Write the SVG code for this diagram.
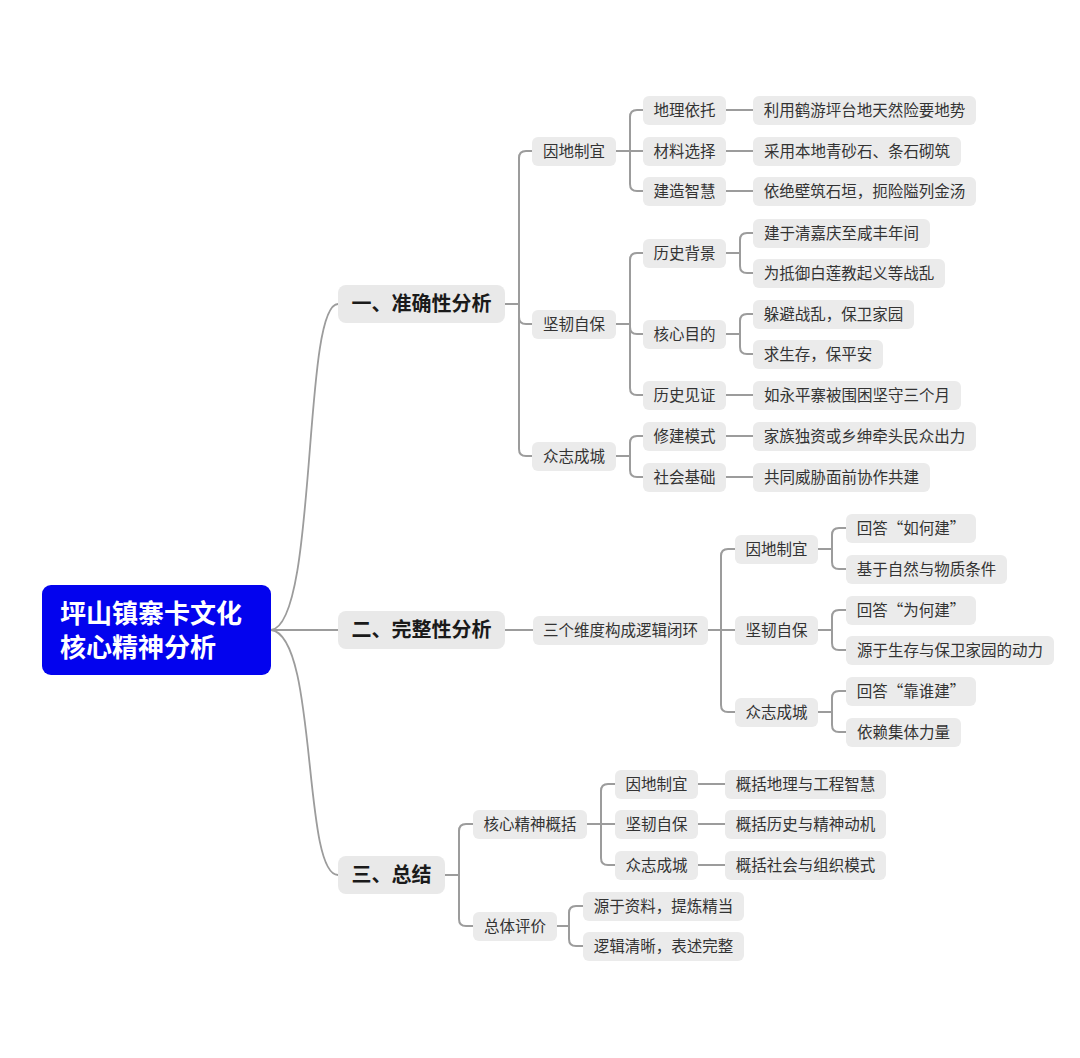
<svg xmlns="http://www.w3.org/2000/svg" width="1080" height="1058" viewBox="0 0 1080 1058">
<style>
text{font-family:"Noto Sans CJK SC","Noto Sans",sans-serif;fill:#333333;}
.n rect{fill:#ebebeb;}
.t{font-size:15.5px;text-anchor:middle;}
.l1 rect{fill:#e9e9e9;}
.t1{font-size:20px;font-weight:bold;fill:#1a1a1a;text-anchor:middle;}
.root rect{fill:#0303ee;}
.rt{font-size:26px;font-weight:bold;fill:#ffffff;}
#connectors path{fill:none;stroke:#9c9c9c;stroke-width:2;}
#connectors .c{stroke-width:1.8;}
</style>
<rect width="1080" height="1058" fill="#ffffff"/>
<g id="connectors">
<path class="c" d="M271,630 C318,625 302,304 338,304"/>
<path class="c" d="M271,630 H338"/>
<path class="c" d="M271,630 C318,635 302,875 338,875"/>
<!-- A -->
<path d="M505,304 H519 V158 Q519,151 526,151 H532"/>
<path d="M505,304 H519 V317 Q519,324 526,324 H532"/>
<path d="M505,304 H519 V449 Q519,456 526,456 H532"/>
<path d="M616,151 H643"/>
<path d="M616,151 H630 V117 Q630,110 637,110 H643"/>
<path d="M616,151 H630 V184 Q630,191 637,191 H643"/>
<path d="M726,110 H753"/>
<path d="M726,151 H753"/>
<path d="M726,191 H753"/>
<path d="M616,324 H630 V260 Q630,253 637,253 H643"/>
<path d="M616,324 H630 V327 Q630,334 637,334 H643"/>
<path d="M616,324 H630 V388 Q630,395 637,395 H643"/>
<path d="M726,253 H740 V240 Q740,233 747,233 H753"/>
<path d="M726,253 H740 V266 Q740,273 747,273 H753"/>
<path d="M726,334 H740 V321 Q740,314 747,314 H753"/>
<path d="M726,334 H740 V347 Q740,354 747,354 H753"/>
<path d="M726,395 H753"/>
<path d="M616,456 H630 V443 Q630,436 637,436 H643"/>
<path d="M616,456 H630 V470 Q630,477 637,477 H643"/>
<path d="M726,436 H753"/>
<path d="M726,477 H753"/>
<!-- B -->
<path d="M505,630 H533"/>
<path d="M708,630 H735"/>
<path d="M708,630 H721 V556 Q721,549 728,549 H735"/>
<path d="M708,630 H721 V705 Q721,712 728,712 H735"/>
<path d="M818,549 H832 V535 Q832,528 839,528 H846"/>
<path d="M818,549 H832 V562 Q832,569 839,569 H846"/>
<path d="M818,630 H832 V617 Q832,610 839,610 H846"/>
<path d="M818,630 H832 V643 Q832,650 839,650 H846"/>
<path d="M818,712 H832 V698 Q832,691 839,691 H846"/>
<path d="M818,712 H832 V725 Q832,732 839,732 H846"/>
<!-- C -->
<path d="M445,875 H459 V831 Q459,824 466,824 H473"/>
<path d="M445,875 H459 V919 Q459,926 466,926 H473"/>
<path d="M587,824 H615"/>
<path d="M587,824 H601 V791 Q601,784 608,784 H615"/>
<path d="M587,824 H601 V858 Q601,865 608,865 H615"/>
<path d="M698,784 H725"/>
<path d="M698,824 H725"/>
<path d="M698,865 H725"/>
<path d="M557,926 H569 V913 Q569,906 576,906 H583"/>
<path d="M557,926 H569 V939 Q569,946 576,946 H583"/>
</g>
<g id="root" class="root"><rect x="42" y="585" width="229" height="90" rx="9"/><text class="rt" x="60" y="623">坪山镇寨卡文化</text><text class="rt" x="60" y="657">核心精神分析</text></g>
<g id="a" class="l1"><rect x="338" y="285" width="167" height="38" rx="8"/><text class="t1" x="421.5" y="311">一、准确性分析</text></g>
<g id="b" class="l1"><rect x="338" y="611" width="167" height="38" rx="8"/><text class="t1" x="421.5" y="637">二、完整性分析</text></g>
<g id="c" class="l1"><rect x="338" y="856" width="107" height="38" rx="8"/><text class="t1" x="391.5" y="882">三、总结</text></g>

<g id="a1" class="n"><rect x="532" y="137" width="84" height="29" rx="6"/><text class="t" x="574" y="157">因地制宜</text></g>
<g id="a2" class="n"><rect x="532" y="310" width="84" height="29" rx="6"/><text class="t" x="574" y="330">坚韧自保</text></g>
<g id="a3" class="n"><rect x="532" y="442" width="84" height="29" rx="6"/><text class="t" x="574" y="462">众志成城</text></g>

<g id="a1a" class="n"><rect x="643" y="96" width="83" height="29" rx="6"/><text class="t" x="684.5" y="116">地理依托</text></g>
<g id="a1b" class="n"><rect x="643" y="137" width="83" height="29" rx="6"/><text class="t" x="684.5" y="157">材料选择</text></g>
<g id="a1c" class="n"><rect x="643" y="177" width="83" height="29" rx="6"/><text class="t" x="684.5" y="197">建造智慧</text></g>
<g id="a1a1" class="n"><rect x="753" y="96" width="223" height="29" rx="6"/><text class="t" x="864.5" y="116">利用鹤游坪台地天然险要地势</text></g>
<g id="a1b1" class="n"><rect x="753" y="137" width="208" height="29" rx="6"/><text class="t" x="857" y="157">采用本地青砂石、条石砌筑</text></g>
<g id="a1c1" class="n"><rect x="753" y="177" width="223" height="29" rx="6"/><text class="t" x="864.5" y="197">依绝壁筑石垣，扼险隘列金汤</text></g>

<g id="a2a" class="n"><rect x="643" y="239" width="83" height="29" rx="6"/><text class="t" x="684.5" y="259">历史背景</text></g>
<g id="a2b" class="n"><rect x="643" y="320" width="83" height="29" rx="6"/><text class="t" x="684.5" y="340">核心目的</text></g>
<g id="a2c" class="n"><rect x="643" y="381" width="83" height="29" rx="6"/><text class="t" x="684.5" y="401">历史见证</text></g>
<g id="a2a1" class="n"><rect x="753" y="219" width="177" height="29" rx="6"/><text class="t" x="841.5" y="239">建于清嘉庆至咸丰年间</text></g>
<g id="a2a2" class="n"><rect x="753" y="259" width="192" height="29" rx="6"/><text class="t" x="849" y="279">为抵御白莲教起义等战乱</text></g>
<g id="a2b1" class="n"><rect x="753" y="300" width="161" height="29" rx="6"/><text class="t" x="833.5" y="320">躲避战乱，保卫家园</text></g>
<g id="a2b2" class="n"><rect x="753" y="340" width="130" height="29" rx="6"/><text class="t" x="818" y="360">求生存，保平安</text></g>
<g id="a2c1" class="n"><rect x="753" y="381" width="208" height="29" rx="6"/><text class="t" x="857" y="401">如永平寨被围困坚守三个月</text></g>

<g id="a3a" class="n"><rect x="643" y="422" width="83" height="29" rx="6"/><text class="t" x="684.5" y="442">修建模式</text></g>
<g id="a3b" class="n"><rect x="643" y="463" width="83" height="29" rx="6"/><text class="t" x="684.5" y="483">社会基础</text></g>
<g id="a3a1" class="n"><rect x="753" y="422" width="223" height="29" rx="6"/><text class="t" x="864.5" y="442">家族独资或乡绅牵头民众出力</text></g>
<g id="a3b1" class="n"><rect x="753" y="463" width="177" height="29" rx="6"/><text class="t" x="841.5" y="483">共同威胁面前协作共建</text></g>

<g id="b1" class="n"><rect x="533" y="616" width="175" height="29" rx="6"/><text class="t" x="620.5" y="636">三个维度构成逻辑闭环</text></g>
<g id="b1a" class="n"><rect x="735" y="535" width="83" height="29" rx="6"/><text class="t" x="776.5" y="555">因地制宜</text></g>
<g id="b1b" class="n"><rect x="735" y="616" width="83" height="29" rx="6"/><text class="t" x="776.5" y="636">坚韧自保</text></g>
<g id="b1c" class="n"><rect x="735" y="698" width="83" height="29" rx="6"/><text class="t" x="776.5" y="718">众志成城</text></g>
<g id="b1a1" class="n"><rect x="846" y="514" width="130" height="29" rx="6"/><text class="t" x="911" y="534">回答“如何建”</text></g>
<g id="b1a2" class="n"><rect x="846" y="555" width="161" height="29" rx="6"/><text class="t" x="926.5" y="575">基于自然与物质条件</text></g>
<g id="b1b1" class="n"><rect x="846" y="596" width="130" height="29" rx="6"/><text class="t" x="911" y="616">回答“为何建”</text></g>
<g id="b1b2" class="n"><rect x="846" y="636" width="208" height="29" rx="6"/><text class="t" x="950" y="656">源于生存与保卫家园的动力</text></g>
<g id="b1c1" class="n"><rect x="846" y="677" width="130" height="29" rx="6"/><text class="t" x="911" y="697">回答“靠谁建”</text></g>
<g id="b1c2" class="n"><rect x="846" y="718" width="115" height="29" rx="6"/><text class="t" x="903.5" y="738">依赖集体力量</text></g>

<g id="c1" class="n"><rect x="473" y="810" width="114" height="29" rx="6"/><text class="t" x="530" y="830">核心精神概括</text></g>
<g id="c2" class="n"><rect x="473" y="912" width="84" height="29" rx="6"/><text class="t" x="515" y="932">总体评价</text></g>
<g id="c1a" class="n"><rect x="615" y="770" width="83" height="29" rx="6"/><text class="t" x="656.5" y="790">因地制宜</text></g>
<g id="c1b" class="n"><rect x="615" y="810" width="83" height="29" rx="6"/><text class="t" x="656.5" y="830">坚韧自保</text></g>
<g id="c1c" class="n"><rect x="615" y="851" width="83" height="29" rx="6"/><text class="t" x="656.5" y="871">众志成城</text></g>
<g id="c1a1" class="n"><rect x="725" y="770" width="161" height="29" rx="6"/><text class="t" x="805.5" y="790">概括地理与工程智慧</text></g>
<g id="c1b1" class="n"><rect x="725" y="810" width="161" height="29" rx="6"/><text class="t" x="805.5" y="830">概括历史与精神动机</text></g>
<g id="c1c1" class="n"><rect x="725" y="851" width="161" height="29" rx="6"/><text class="t" x="805.5" y="871">概括社会与组织模式</text></g>
<g id="c2a" class="n"><rect x="583" y="892" width="161" height="29" rx="6"/><text class="t" x="663.5" y="912">源于资料，提炼精当</text></g>
<g id="c2b" class="n"><rect x="583" y="932" width="161" height="29" rx="6"/><text class="t" x="663.5" y="952">逻辑清晰，表述完整</text></g>
</svg>
